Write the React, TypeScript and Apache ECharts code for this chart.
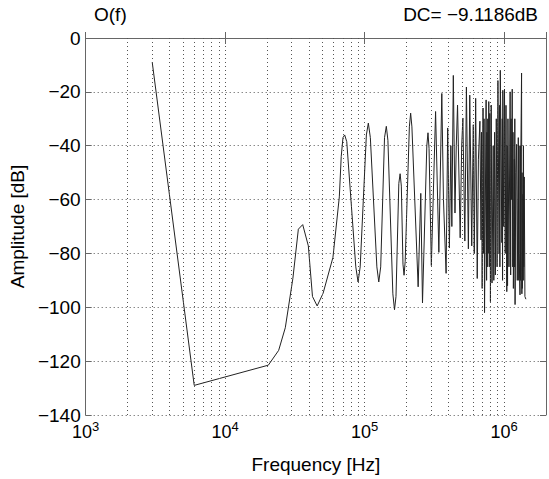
import React, { useEffect, useRef } from "react";
import * as echarts from "echarts";

const freqHz: number[] = [
  3000, 6000, 20400, 24200, 27000, 30600, 33500, 36000, 39500, 42300, 45700, 50400, 59300, 65900, 68000, 70000, 72000,
  74500, 86500, 89800, 93000, 103000, 106400, 110000, 122500, 126400, 130500, 139000, 143200, 147000, 159500, 163900,
  168000, 176000, 179800, 183500, 188500, 191900, 195500, 209500, 214000, 218500, 242200, 253000, 260200, 279500,
  284900, 290000, 301200, 323000,
  340900, 357900, 367900, 384300, 394500, 405700, 415600, 422500, 432900, 444900, 454500, 464100, 485000, 497000,
  506900, 523600, 537400, 555200, 567900, 586700, 602200, 611800, 626100, 642600, 655200, 671400, 684000, 690000,
  697000, 707200, 713000, 719000, 724800, 744000, 750000, 754000, 758500, 765000, 771000, 777300, 784000, 791000,
  799000, 809400, 820000, 836200, 845000, 856000,
  866800, 880000, 892000, 904100, 921900, 928000, 934000, 940100, 965000, 971000, 976000, 980700, 995200, 1008000,
  1020000, 1033000, 1046700, 1053000, 1060000,
  1067000, 1085000, 1106000, 1116000, 1123000, 1130000, 1145000, 1155000, 1160000, 1167000, 1186000, 1191000,
  1195000, 1200000,
  1215000, 1231000, 1245000, 1266000, 1275000, 1279000, 1283000, 1302000, 1308000, 1313000, 1319000, 1336000,
  1343000, 1347000,
  1351000, 1369000, 1374000, 1379000, 1385000, 1396000, 1412000, 1435000,
];

const ampDb: number[] = [
  -9, -129, -121.5, -116, -107.6, -89.3, -71, -69.3, -77.2, -96, -99.5, -94.8, -81.5, -59, -44, -37, -36,
  -38.5, -85, -90.6, -85, -36, -31.6, -37, -85, -90.6, -85, -37, -32.8, -38, -95, -100.9,
  -96, -54, -50.4, -55, -84, -88.1, -83, -33, -27.9, -33, -92.4, -57.7, -98.4, -40,
  -35.2, -41, -84.5, -27.3,
  -79.6, -20.6, -60, -87.4, -33.4, -78, -40, -70, -13.9, -65, -40, -24.9, -74.2, -40,
  -29.7, -75.4, -18.2, -78.3, -21.2, -77.2, -32.2, -80, -22.4, -89.3, -45, -30.9, -75, -35,
  -93, -26, -80, -30, -102, -23, -90, -35, -85, -30, -80, -23.6, -85, -28,
  -97.9, -24.9, -91, -40, -90, -35,
  -88, -30, -85, -15.8, -80, -25, -85, -12, -76, -30, -90, -19.4, -70, -19,
  -80, -25, -94.2, -40, -92,
  -30, -85, -20, -88, -30, -60, -19, -85, -35, -93, -45, -85,
  -30, -99,
  -50, -39.5, -90, -37, -90, -40, -80, -95.4, -40, -90, -45, -13,
  -95, -50,
  -93, -58, -90, -40, -85, -51.6, -96, -97,
];

const minorGridHz: number[] = [
  2000, 3000, 4000, 5000, 6000, 7000, 8000, 9000,
  20000, 30000, 40000, 50000, 60000, 70000, 80000, 90000,
  200000, 300000, 400000, 500000, 600000, 700000, 800000, 900000,
];

const titleLeft = "O(f)";
const titleRight = "DC= \u22129.1186dB";
const xName = "Frequency [Hz]";
const yName = "Amplitude [dB]";

const FONT = "'Liberation Sans', Arial, Helvetica, sans-serif";
const FS = 19;

export default function App() {
  const ref = useRef<HTMLDivElement>(null);
  useEffect(() => {
    if (!ref.current) return;
    const chart = echarts.init(ref.current, undefined, { renderer: "svg" });
    const data = freqHz.map((f, i) => [f, ampDb[i]]);
    const gridStyle = { color: "#555", width: 1, type: [1, 3] as any };
    chart.setOption({
      animation: false,
      backgroundColor: "#fff",
      textStyle: { fontFamily: FONT },
      title: [
        { text: titleLeft, left: 94, top: 5, padding: 0, textStyle: { fontFamily: FONT, fontSize: FS, fontWeight: "normal", color: "#000" } },
        { text: titleRight, right: 11, top: 5, padding: 0, textStyle: { fontFamily: FONT, fontSize: FS, fontWeight: "normal", color: "#000" } },
      ],
      grid: { left: 81, right: 1, top: 38, bottom: 57, containLabel: false },
      xAxis: [
        {
          type: "log",
          logBase: 10,
          min: 1000,
          max: 2000000,
          name: xName,
          nameLocation: "middle",
          nameGap: 40,
          nameTextStyle: { fontFamily: FONT, fontSize: FS, color: "#000" },
          axisLine: { show: true, lineStyle: { color: "#666", width: 1 } },
          axisTick: { show: true, inside: true, length: 6, lineStyle: { color: "#666" } },
          axisLabel: {
            show: true,
            margin: 5,
            formatter: (v: number) => {
              const e = Math.round(Math.log10(v));
              if (Math.abs(v - Math.pow(10, e)) / v > 1e-6) return "";
              return "{b|10}{s|" + e + "}";
            },
            rich: {
              b: { fontFamily: FONT, fontSize: 18, color: "#000" },
              s: { fontFamily: FONT, fontSize: 13, color: "#000", padding: [0, 0, 10, 0] },
            },
          },
          splitLine: { show: true, lineStyle: gridStyle },
        },
        {
          type: "log",
          logBase: 10,
          min: 1000,
          max: 2000000,
          position: "top",
          axisLine: { show: true, lineStyle: { color: "#666", width: 1 } },
          axisTick: { show: true, inside: true, length: 6, lineStyle: { color: "#666" } },
          axisLabel: { show: false },
          splitLine: { show: false },
        },
      ],
      yAxis: [
        {
          type: "value",
          min: -140,
          max: 0,
          interval: 20,
          name: yName,
          nameLocation: "middle",
          nameGap: 54,
          nameTextStyle: { fontFamily: FONT, fontSize: FS, color: "#000" },
          axisLine: { show: true, lineStyle: { color: "#666", width: 1 } },
          axisTick: { show: true, inside: true, length: 6, lineStyle: { color: "#666" } },
          axisLabel: {
            fontFamily: FONT,
            fontSize: FS,
            color: "#000",
            margin: 5,
            formatter: (v: number) => (v < 0 ? "\u2212" + Math.abs(v) : String(v)),
          },
          splitLine: { show: true, lineStyle: gridStyle },
        },
        {
          type: "value",
          min: -140,
          max: 0,
          interval: 20,
          position: "right",
          axisLine: { show: true, lineStyle: { color: "#666", width: 1 } },
          axisTick: { show: true, inside: true, length: 6, lineStyle: { color: "#666" } },
          axisLabel: { show: false },
          splitLine: { show: false },
        },
      ],
      series: [
        {
          type: "line",
          xAxisIndex: 0,
          yAxisIndex: 0,
          data,
          symbol: "none",
          showSymbol: false,
          smooth: false,
          lineStyle: { color: "#222", width: 1 },
          markLine: {
            silent: true,
            symbol: ["none", "none"],
            label: { show: false },
            lineStyle: gridStyle,
            data: minorGridHz.map((v) => ({ xAxis: v })),
          },
          z: 3,
        },
      ],
    });
    return () => chart.dispose();
  }, []);
  return (
    <div
      ref={ref}
      style={{ position: "absolute", left: 0, top: 0, width: 549, height: 479, background: "#fff" }}
    />
  );
}
